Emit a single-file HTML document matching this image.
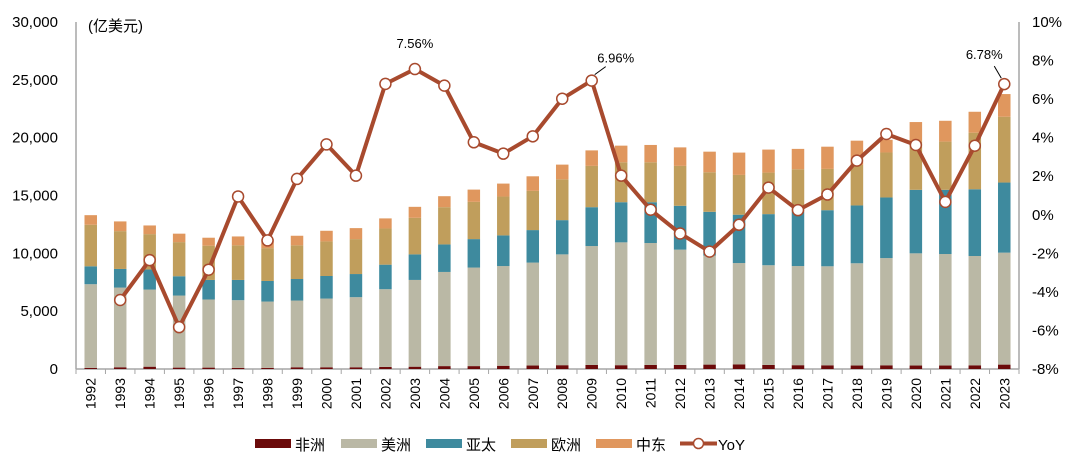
<!DOCTYPE html>
<html><head><meta charset="utf-8">
<style>
html,body{margin:0;padding:0;background:#fff;}
svg text{font-family:"Liberation Sans","Noto Sans CJK SC",sans-serif;fill:#000;}
</style></head>
<body>
<svg id="chart" width="1080" height="461" viewBox="0 0 1080 461" xmlns="http://www.w3.org/2000/svg">
<g id="axes"></g><g id="bars"></g><g id="line"></g><g id="labels"></g>
<g id="legend">
  <rect x="255" y="439" width="36" height="9" fill="#6b0a0a"/>
  <text x="295" y="450" font-size="15">非洲</text>
  <rect x="341" y="439" width="36" height="9" fill="#bab8a5"/>
  <text x="381" y="450" font-size="15">美洲</text>
  <rect x="426" y="439" width="36" height="9" fill="#3e8a9e"/>
  <text x="466" y="450" font-size="15">亚太</text>
  <rect x="511" y="439" width="36" height="9" fill="#c09e5c"/>
  <text x="551" y="450" font-size="15">欧洲</text>
  <rect x="596" y="439" width="36" height="9" fill="#e0975e"/>
  <text x="636" y="450" font-size="15">中东</text>
  <line x1="680" y1="443.5" x2="717" y2="443.5" stroke="#a84a2e" stroke-width="4"/>
  <circle cx="698.5" cy="443.5" r="5" fill="#fff" stroke="#a84a2e" stroke-width="1.5"/>
  <text x="718" y="450" font-size="15">YoY</text>
</g>
</svg>
<script>
const years = [1992,1993,1994,1995,1996,1997,1998,1999,2000,2001,2002,2003,2004,2005,2006,2007,2008,2009,2010,2011,2012,2013,2014,2015,2016,2017,2018,2019,2020,2021,2022,2023];
const africa = [100,150,200,120,120,100,100,150,150,150,180,200,250,250,280,300,330,350,330,350,350,380,400,350,330,320,300,320,300,300,320,380];
const americas = [7230,6890,6670,6230,5890,5850,5730,5770,5940,6060,6720,7500,8140,8520,8620,8900,9580,10280,10620,10540,9970,9420,8760,8620,8570,8560,8840,9270,9700,9640,9450,9680];
const asiaPacific = [1550,1610,1730,1670,1690,1750,1780,1860,1950,2000,2120,2210,2380,2460,2650,2810,2960,3360,3470,3530,3790,3790,4180,4420,4700,4850,5000,5240,5490,5550,5770,6060];
const europe = [3590,3270,3060,2950,2960,2990,2840,2910,2990,3020,3130,3160,3220,3220,3360,3390,3530,3570,3450,3450,3450,3420,3440,3590,3670,3570,3500,3890,4170,4170,4890,5690];
const middleEast = [830,840,750,730,690,770,780,830,920,950,870,950,950,1060,1120,1260,1270,1340,1440,1500,1600,1780,1930,1990,1760,1920,2100,1100,1690,1800,1810,1960];
const yoyYears = [1993,1994,1995,1996,1997,1998,1999,2000,2001,2002,2003,2004,2005,2006,2007,2008,2009,2010,2011,2012,2013,2014,2015,2016,2017,2018,2019,2020,2021,2022,2023];
const yoy = [-4.42,-2.35,-5.83,-2.85,0.95,-1.33,1.86,3.65,2.03,6.79,7.56,6.70,3.76,3.17,4.07,6.02,6.96,2.03,0.26,-0.97,-1.91,-0.52,1.41,0.24,1.05,2.81,4.19,3.62,0.67,3.58,6.78];
const leftTicks = [0,5000,10000,15000,20000,25000,30000];
const leftTickLabels = ["0","5,000","10,000","15,000","20,000","25,000","30,000"];
const rightTicks = [-8,-6,-4,-2,0,2,4,6,8,10];
const callouts = [[2003,"7.56%"],[2009,"6.96%"],[2023,"6.78%"]];

const NS="http://www.w3.org/2000/svg";
const X0=76,X1=1019,Y0=369,YT=22;
const step=(X1-X0)/years.length;
const bw=12.5;
function xc(i){return X0+step*(i+0.5);}
function xYear(y){return xc(years.indexOf(y));}
function yL(v){return Y0-(v/30000)*(Y0-YT);}
function yR(p){return Y0-((p+8)/18)*(Y0-YT);}
function mk(tag,attrs,parent){const e=document.createElementNS(NS,tag);for(const k in attrs)e.setAttribute(k,attrs[k]);parent.appendChild(e);return e;}

const axes=document.getElementById('axes');
const a1=mk('line',{x1:X0,y1:YT,x2:X0,y2:Y0,stroke:'#a6a6a6','stroke-width':1.5},axes);


const a2=mk('line',{x1:X1,y1:YT,x2:X1,y2:Y0,stroke:'#a6a6a6','stroke-width':1.5},axes);


const a3=mk('line',{x1:X0,y1:Y0,x2:X1,y2:Y0,stroke:'#a6a6a6','stroke-width':1.5},axes);


for(let i=0;i<=years.length;i++){
  const t=mk('line',{x1:X0+step*i,y1:Y0,x2:X0+step*i,y2:Y0+5,stroke:'#a6a6a6','stroke-width':1},axes);
  
  
}
leftTicks.forEach((v,i)=>{
  const t=mk('text',{x:58,y:yL(v)+5,'text-anchor':'end','font-size':15},axes);
  t.textContent=leftTickLabels[i];
  
  
});
rightTicks.forEach(v=>{
  const t=mk('text',{x:1032,y:yR(v)+5,'font-size':15},axes);
  t.textContent=v+'%';
  
  
});
const unit=mk('text',{x:88,y:31,'font-size':15},axes);
unit.textContent='(亿美元)';


years.forEach((y,i)=>{
  const t=mk('text',{x:0,y:0,'font-size':14,'text-anchor':'end',transform:`translate(${xc(i)+5},${Y0+9}) rotate(-90)`},axes);
  t.textContent=y;
  
  
});

const series=[[africa,'#6b0a0a','africa'],[americas,'#bab8a5','americas'],[asiaPacific,'#3e8a9e','asia-pacific'],[europe,'#c09e5c','europe'],[middleEast,'#e0975e','middle-east']];
const bars=document.getElementById('bars');
years.forEach((y,i)=>{
  let cum=0;
  series.forEach(([arr,col,nm])=>{
    const v=arr[i];
    const top=yL(cum+v),bot=yL(cum);
    const r=mk('rect',{x:xc(i)-bw/2,y:top,width:bw,height:bot-top,fill:col},bars);
    
    
    cum+=v;
  });
});

const lg=document.getElementById('line');
const pts=yoyYears.map((y,i)=>[xYear(y),yR(yoy[i])]);
const pl=mk('polyline',{points:pts.map(p=>p.join(',')).join(' '),fill:'none',stroke:'#a84a2e','stroke-width':4,'stroke-linejoin':'round'},lg);


pts.forEach((p,i)=>{
  const c=mk('circle',{cx:p[0],cy:p[1],r:5.5,fill:'#fff',stroke:'#a84a2e','stroke-width':1.5},lg);
  
  
});

const lb=document.getElementById('labels');
callouts.forEach(([y,txt])=>{
  const px=xYear(y),py=yR(yoy[yoyYears.indexOf(y)]);
  let tx=px,ty=py-21;
  if(y===2009){tx=px+24;ty=py-18;mk('line',{x1:px+3,y1:py-6,x2:px+14,y2:py-14,stroke:'#000','stroke-width':1},lb);}
  if(y===2023){tx=px-20;ty=py-25;mk('line',{x1:px-3,y1:py-6,x2:px-10,y2:py-18,stroke:'#000','stroke-width':1},lb);}
  const t=mk('text',{x:tx,y:ty,'font-size':13,'text-anchor':'middle'},lb);
  t.textContent=txt;
  
  
});
</script>
</body></html>
